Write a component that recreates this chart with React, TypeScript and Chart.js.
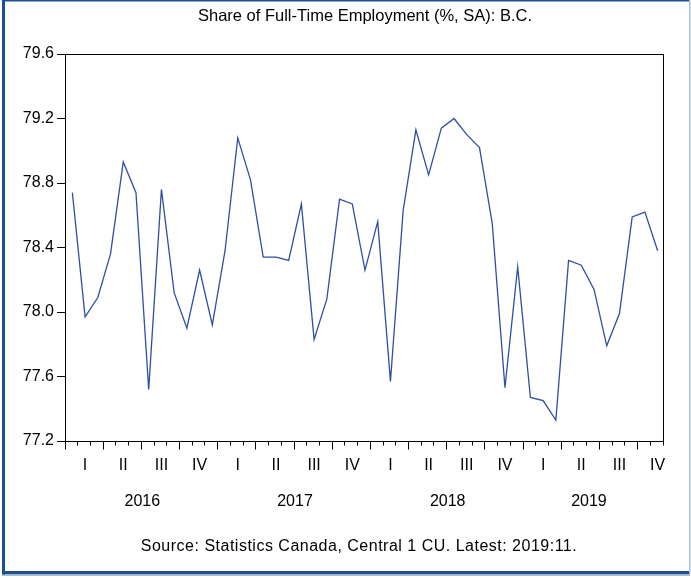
import { useEffect, useRef } from "react";
import { Chart, registerables } from "chart.js";

Chart.register(...registerables);

const TITLE = "Share of Full-Time Employment (%, SA): B.C.";
const SOURCE = "Source: Statistics Canada, Central 1 CU. Latest: 2019:11.";
const YEARS = ["2016", "2017", "2018", "2019"];
const QUARTERS = ["I", "II", "III", "IV"];
const Y_MIN = 77.2;
const Y_MAX = 79.6;
const Y_STEP = 0.4;

// Monthly observations 2016:01 .. 2019:11
const SHARE = [
  78.74, 77.97, 78.09, 78.36, 78.93, 78.74, 77.52, 78.76, 78.12, 77.9, 78.26, 77.92,
  78.38, 79.08, 78.82, 78.34, 78.34, 78.32, 78.67, 77.83, 78.08, 78.7, 78.67, 78.26,
  78.56, 77.57, 78.63, 79.13, 78.85, 79.14, 79.2, 79.1, 79.02, 78.55, 77.53, 78.28,
  77.47, 77.45, 77.33, 78.32, 78.29, 78.14, 77.79, 77.99, 78.59, 78.62, 78.38,
];

const MONTHS = YEARS.flatMap((y) =>
  ["01", "02", "03", "04", "05", "06", "07", "08", "09", "10", "11", "12"].map((m) => `${y}:${m}`)
).slice(0, SHARE.length);

const FONT = '"Liberation Sans", Arial, sans-serif';
const DARK_BLUE = "#1f4e8c";
const LIGHT_BLUE = "#a9bdd6";
const LINE_BLUE = "#2f4ea6";

const decorPlugin = {
  id: "decor",
  beforeDraw(chart: any) {
    const ctx = chart.ctx;
    ctx.save();
    ctx.fillStyle = "#ffffff";
    ctx.fillRect(0, 0, chart.width, chart.height);
    ctx.restore();
  },
  afterDraw(chart: any) {
    const ctx = chart.ctx;
    const W = chart.width;
    const H = chart.height;
    const { left, right, top, bottom } = chart.chartArea;
    const x = chart.scales.x;
    ctx.save();

    // plot frame
    ctx.strokeStyle = "#000";
    ctx.lineWidth = 1;
    ctx.strokeRect(
      Math.round(left) - 0.5,
      Math.round(top) + 0.5,
      Math.round(right) - Math.round(left),
      Math.round(bottom) - Math.round(top)
    );

    // month tick marks (long at quarter boundaries)
    const n = MONTHS.length;
    ctx.beginPath();
    for (let k = 0; k <= n; k++) {
      const px = Math.floor(x.getPixelForValue(k - 0.5)) - 0.5;
      const len = k % 3 === 0 ? 8 : 4;
      ctx.moveTo(px, Math.round(bottom) + 0.5);
      ctx.lineTo(px, Math.round(bottom) + 0.5 + len);
    }
    ctx.stroke();

    // quarter labels
    ctx.fillStyle = "#000";
    ctx.font = `16px ${FONT}`;
    ctx.textAlign = "center";
    ctx.textBaseline = "alphabetic";
    const nq = Math.ceil(n / 3);
    for (let q = 0; q < nq; q++) {
      const cx = x.getPixelForValue(q * 3 + 1);
      ctx.fillText(QUARTERS[q % 4], cx, 470);
    }
    // year labels
    YEARS.forEach((yr, i) => {
      const first = i * 12;
      const last = Math.min(i * 12 + 11, n - 1);
      const cx = x.getPixelForValue((first + last) / 2 - (last - first < 11 ? 0.4 : 0));
      ctx.fillText(yr, cx, 506);
    });

    // title & source
    const mid = (left + right) / 2;
    ctx.font = `16.5px ${FONT}`;
    ctx.fillText(TITLE, mid, 20.5);
    ctx.font = `16px ${FONT}`;
    try {
      (ctx as any).letterSpacing = "0.5px";
    } catch (e) {}
    ctx.fillText(SOURCE, mid - 6, 551);
    try {
      (ctx as any).letterSpacing = "0px";
    } catch (e) {}

    // outer frame
    ctx.fillStyle = DARK_BLUE;
    ctx.fillRect(2, 0, 3, H - 4);
    ctx.fillRect(2, 0, W - 3, 1.5);
    ctx.fillRect(2, H - 8, W - 3, 3.5);
    ctx.fillStyle = LIGHT_BLUE;
    ctx.fillRect(2, H - 4.5, W - 3, 1.5);
    ctx.fillRect(W - 2, 0, 1.5, H - 5);
    ctx.restore();
  },
};

export default function App() {
  const ref = useRef<HTMLCanvasElement | null>(null);
  useEffect(() => {
    if (!ref.current) return;
    const chart = new Chart(ref.current, {
      type: "line",
      data: {
        labels: MONTHS,
        datasets: [
          {
            data: SHARE.map((v, i) => ({ x: i, y: v })),
            borderColor: LINE_BLUE,
            borderWidth: 1.3,
            pointRadius: 0,
            tension: 0,
            fill: false,
          },
        ],
      },
      options: {
        animation: false,
        responsive: false,
        maintainAspectRatio: false,
        layout: { padding: { left: 0, right: 27, top: 54, bottom: 138 } },
        plugins: {
          legend: { display: false },
          tooltip: { enabled: false },
          title: { display: false },
        },
        scales: {
          x: {
            type: "linear",
            min: -0.5,
            max: MONTHS.length - 0.5,
            ticks: { display: false },
            grid: { display: false },
            border: { display: false },
            afterFit: (s: any) => {
              s.height = 0;
            },
          },
          y: {
            type: "linear",
            min: Y_MIN,
            max: Y_MAX,
            ticks: {
              stepSize: Y_STEP,
              color: "#000",
              padding: 3,
              font: { family: FONT, size: 16 },
              callback: (v: any) => Number(v).toFixed(1),
            },
            grid: {
              drawOnChartArea: false,
              drawTicks: true,
              tickLength: 9,
              tickColor: "#000",
            },
            border: { display: false },
            afterFit: (s: any) => {
              s.width = 66;
            },
          },
        },
      },
      plugins: [decorPlugin],
    });
    return () => chart.destroy();
  }, []);
  return (
    <div style={{ position: "absolute", left: 0, top: 0, width: 691, height: 579, background: "#fff" }}>
      <canvas ref={ref} width={691} height={579} style={{ display: "block", width: 691, height: 579 }} />
    </div>
  );
}
